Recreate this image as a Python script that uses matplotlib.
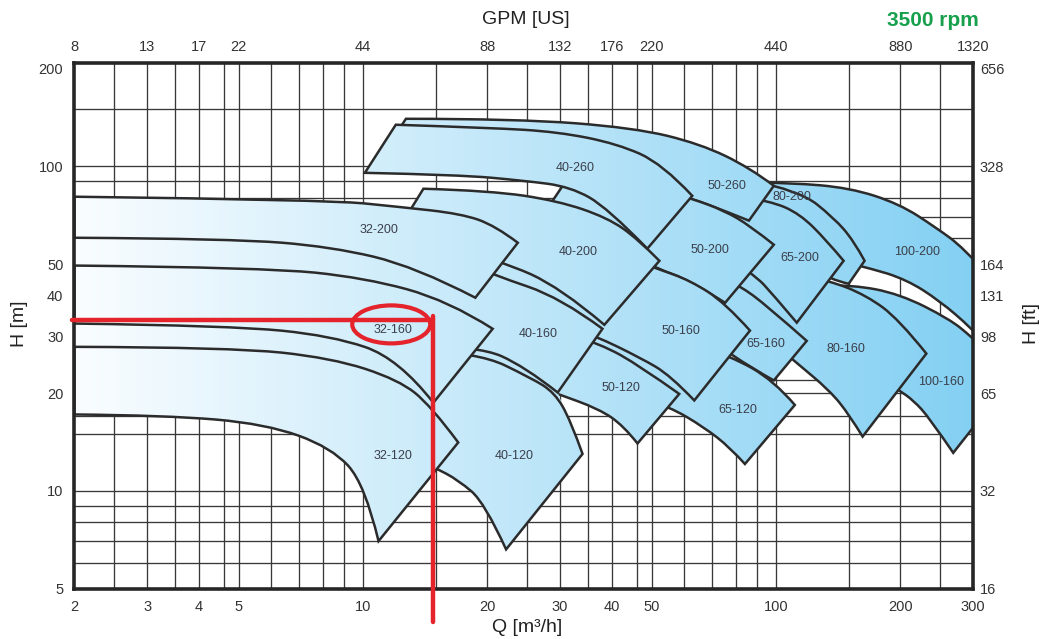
import numpy as np
import matplotlib.pyplot as plt
import matplotlib.transforms as mtransforms
from matplotlib.patches import PathPatch, Ellipse
from matplotlib.path import Path
from matplotlib.ticker import NullLocator

plt.rcParams['font.family'] = ['Liberation Sans', 'DejaVu Sans']

# flow ticks (m3/h) at the bottom, the same positions in US GPM on top
q_ticks = [2, 3, 4, 5, 10, 20, 30, 40, 50, 100, 200, 300]
gpm_labels = ["8", "13", "17", "22", "44", "88", "132", "176", "220", "440", "880", "1320"]
# head ticks (m) on the left, the same positions in ft on the right
h_ticks = [5, 10, 20, 30, 40, 50, 100, 200]
ft_labels = ["16", "32", "65", "98", "131", "164", "328", "656"]

q_grid = [2.5, 3, 3.5, 4, 4.6, 5, 6, 7, 8, 9, 10, 15, 20, 25, 30, 35, 40, 46, 50,
          60, 70, 80, 90, 100, 150, 200, 250]
h_grid = [6, 7, 8, 9, 10, 15, 17, 20, 22, 60, 70, 80, 90, 100, 150]

# pump ranges: (Q, H) along the largest impeller (top) and smallest impeller (bottom)
c100_200_top = [(92.5, 89.1), (108, 89.1), (150.8, 86.0), (199, 76.7), (244.6, 64.7), (284.2, 56.2), (322.9, 47.0)]
c100_200_bot = [(82.8, 61.2), (167.6, 48.8), (207, 44.8), (248.7, 38.6), (297, 31.8), (322.9, 28.4)]
c100_160_top = [(132.7, 42.9), (152.4, 43.2), (199, 40.5), (262.8, 33.9), (297, 29.9), (332, 26.1), (361, 21.1)]
c100_160_bot = [(175.2, 22.7), (199, 20.4), (215.2, 19.0), (235.2, 16.8), (268.7, 13.1)]
c80_200_top = [(87.5, 90.4), (114.2, 84.2), (138, 69.5), (154.2, 59.1), (163.9, 51.2)]
c80_200_bot = [(80.5, 63.4), (113, 52.0), (134.9, 44.8), (150, 43.5)]
c80_160_top = [(115.5, 46.1), (134.9, 44.5), (165.7, 40.0), (198, 33.9), (231.3, 26.5)]
c80_160_bot = [(100.5, 28.0), (110.5, 25.2), (134.9, 20.4), (150.8, 17.1), (162.1, 14.7)]
c65_200_top = [(80.5, 81.2), (96.7, 78.4), (114.2, 71.5), (132.7, 59.1), (145.8, 51.2)]
c65_200_bot = [(72, 55.0), (88.4, 46.7), (98.8, 40.0), (112.3, 33.0)]
c65_160_top = [(70, 47.7), (81.8, 42.9), (95.1, 37.2), (118.7, 29.0)]
c65_160_bot = [(64.9, 31.2), (77.4, 26.1), (98.8, 21.9)]
c65_120_top = [(64.9, 28.0), (77.4, 26.1), (98.8, 21.9), (111.1, 18.4)]
c65_120_bot = [(49.1, 19.0), (55.1, 18.2), (67, 15.7), (77.4, 13.6), (84.1, 12.1)]
c50_260_top = [(12.7, 140.3), (23.7, 140.3), (45.4, 131.6), (65.5, 117.5), (86.5, 99.1), (98.8, 87.2)]
c50_260_bot = [(11.5, 115.8), (29.6, 98.4), (49.1, 87.2), (62.7, 79.5), (74.9, 73.1), (86, 68.1)]
c50_200_top = [(32.2, 97.0), (41.3, 90.4), (51.6, 85.4), (62.7, 79.5), (74.9, 73.1), (86.5, 65.7), (98.8, 57.4)]
c50_200_bot = [(27.2, 70.5), (37.2, 59.1), (51.6, 48.4), (62, 44.5), (75.3, 38.0)]
c50_160_top = [(29.6, 59.1), (39.1, 55.0), (51.6, 48.4), (62, 44.5), (75.3, 38.0), (86.5, 31.2)]
c50_160_bot = [(31.3, 32.3), (36.4, 30.1), (47, 25.7), (55.5, 22.7), (63.4, 19.0)]
c50_120_top = [(32.2, 30.1), (37.6, 28.4), (47, 24.2), (58.3, 19.9)]
c50_120_bot = [(27.2, 20.7), (29.6, 19.9), (37.2, 17.9), (42.7, 15.9), (46.2, 14.0)]
c40_260_top = [(12.0, 134.5), (20.4, 131.6), (29.6, 127.9), (41.3, 117.5), (53.1, 101.9), (62.7, 81.2)]
c40_260_bot = [(10.1, 95.6), (17, 94.3), (24.6, 90.4), (31.8, 86.6), (39.1, 74.6), (48.8, 55.8)]
c40_200_top = [(14, 85.4), (20.4, 84.2), (29.6, 78.4), (39.1, 69.5), (46.2, 59.9), (52.2, 51.2)]
c40_200_bot = [(12.2, 64.3), (21.6, 51.2), (30.1, 42.3), (38.4, 32.5)]
c40_160_top = [(16.5, 52.0), (20.9, 46.1), (30.1, 39.4), (38, 31.6)]
c40_160_bot = [(13.2, 28.0), (19, 28.0), (24.6, 24.2), (29.6, 20.1)]
c40_120_top = [(13.6, 27.1), (19, 26.7), (25.5, 22.3), (29.1, 20.1), (31.8, 16.5), (34, 13.0)]
c40_120_bot = [(12.9, 12.8), (14.9, 11.8), (17, 10.8), (19.7, 9.2), (22.2, 6.6)]
c32_200_top = [(2, 80.7), (8.25, 78.9), (12.2, 75.1), (17.3, 71.5), (20.9, 65.7), (23.7, 58.2)]
c32_200_bot = [(2, 60.3), (4.81, 59.9), (8.39, 56.6), (13.4, 49.1), (18.7, 39.4)]
c32_160_top = [(2, 49.5), (5.81, 48.8), (10.1, 45.4), (16.1, 38.6), (20.6, 31.6)]
c32_160_bot = [(2, 32.8), (4.81, 32.3), (8.39, 30.1), (12.2, 25.6), (14.8, 18.7)]
c32_120_top = [(2, 27.8), (4.81, 27.7), (8.39, 25.7), (12.2, 22.0), (14.6, 18.3), (17, 14.1)]
c32_120_bot = [(2, 17.2), (3.33, 17.1), (5.81, 16.1), (8.39, 13.6), (10.1, 10.5), (10.9, 7.0)]

names = ["100-200", "100-160", "80-200", "80-160", "65-200", "65-160", "65-120",
         "50-260", "50-200", "50-160", "50-120", "40-260", "40-200", "40-160", "40-120",
         "32-200", "32-160", "32-120"]
label_q = [220, 251, 109.2, 147.5, 114.2, 94.6, 80.9, 76.1, 69.3, 59.0, 42.2,
           32.7, 33.1, 26.5, 23.2, 10.9, 11.8, 11.8]
label_h = [54.6, 21.7, 80.7, 27.4, 52.3, 28.4, 17.7, 87.2, 55.4, 31.0, 20.8,
           99.1, 54.6, 30.5, 12.8, 63.8, 31.4, 12.8]

# back to front; filled gaps between neighbouring ranges of one size
columns = [["100-200", "100-160"], ["80-200", "80-160"], ["65-200", "65-160", "65-120"],
           ["50-260", "50-200", "50-160", "50-120"], ["40-260", "40-200", "40-160", "40-120"],
           ["32-200", "32-160", "32-120"]]
gaps = [("65-200", "65-160"), ("50-160", "50-120"), ("40-200", "40-160"),
        ("40-160", "40-120"), ("32-200", "32-160"), ("32-160", "32-120")]

# duty point marked in red
sel_q, sel_h = 14.8, 33.7
line_q0, line_h0 = 1.97, 3.95
ring_q, ring_h = 11.7, 32.6

tops = {"100-200": c100_200_top, "100-160": c100_160_top, "80-200": c80_200_top, "80-160": c80_160_top,
        "65-200": c65_200_top, "65-160": c65_160_top, "65-120": c65_120_top,
        "50-260": c50_260_top, "50-200": c50_200_top, "50-160": c50_160_top, "50-120": c50_120_top,
        "40-260": c40_260_top, "40-200": c40_200_top, "40-160": c40_160_top, "40-120": c40_120_top,
        "32-200": c32_200_top, "32-160": c32_160_top, "32-120": c32_120_top}
bots = {"100-200": c100_200_bot, "100-160": c100_160_bot, "80-200": c80_200_bot, "80-160": c80_160_bot,
        "65-200": c65_200_bot, "65-160": c65_160_bot, "65-120": c65_120_bot,
        "50-260": c50_260_bot, "50-200": c50_200_bot, "50-160": c50_160_bot, "50-120": c50_120_bot,
        "40-260": c40_260_bot, "40-200": c40_200_bot, "40-160": c40_160_bot, "40-120": c40_120_bot,
        "32-200": c32_200_bot, "32-160": c32_160_bot, "32-120": c32_120_bot}


def curve(points):
    # quadratic bezier pieces through the read points (drawn smooth on the log axes)
    lp = np.log10(np.array(points, dtype=float))
    verts, codes = [lp[0]], []
    if len(lp) == 2:
        return 10 ** np.array(verts + [lp[1]]), [Path.LINETO]
    for i in range(1, len(lp) - 1):
        end = (lp[i] + lp[i + 1]) / 2 if i < len(lp) - 2 else lp[i + 1]
        verts += [lp[i], end]
        codes += [Path.CURVE3, Path.CURVE3]
    return 10 ** np.array(verts), codes


def band(upper, lower):
    tv, tc = curve(upper)
    bv, bc = curve(lower[::-1])
    verts = np.vstack([tv, bv, tv[:1]])
    codes = [Path.MOVETO] + tc + [Path.LINETO] + bc + [Path.CLOSEPOLY]
    return Path(verts, codes)


fig = plt.figure(figsize=(10.46, 6.39), dpi=100)
ax = fig.add_axes([0.0712, 0.0790, 0.8590, 0.8219])
ax.set_xscale("log")
ax.set_yscale("log")
ax.set_xlim(2, 300)
ax.set_ylim(5, 208)

ax.vlines(q_grid, 5, 208, colors="#383838", lw=0.95, zorder=1)
ax.hlines(h_grid, 2, 300, colors="#383838", lw=0.95, zorder=1)

ramp = np.linspace(0, 1, 256)[:, None]
light = np.array([250, 253, 255]) / 255
deep = np.array([132, 208, 243]) / 255
shade = (light * (1 - ramp) + deep * ramp)[None, :, :]


def shaded(path, z, edge=False):
    region = PathPatch(path, fc="none", ec="#2b2b2b" if edge else "none", lw=1.8,
                       joinstyle="miter", zorder=z + 0.1, transform=ax.transData)
    if edge:
        ax.add_patch(region)
    im = ax.imshow(shade, extent=(0, 1, 0, 1), transform=ax.transAxes, aspect="auto",
                   interpolation="bilinear", zorder=z)
    im.set_clip_path(region)


z = 2
for column in columns:
    for upper, lower in gaps:
        if upper in column:
            shaded(band(bots[upper], tops[lower]), z)
            z += 1
    for name in column:
        shaded(band(tops[name], bots[name]), z, edge=True)
        i = names.index(name)
        ax.text(label_q[i], label_h[i], name, ha="center", va="center", fontsize=9,
                color="#3a3f4a", zorder=z + 0.2)
        z += 1

ax.set_xlim(2, 300)
ax.set_ylim(5, 208)

ax.set_xticks(q_ticks, labels=[str(v) for v in q_ticks])
ax.set_yticks(h_ticks, labels=[str(v) for v in h_ticks])
ax.xaxis.set_minor_locator(NullLocator())
ax.yaxis.set_minor_locator(NullLocator())
ax.tick_params(length=0, labelsize=10.5, labelcolor="#333333", pad=8)

top = ax.secondary_xaxis("top")
top.set_xticks(q_ticks, labels=gpm_labels)
top.xaxis.set_minor_locator(NullLocator())
top.tick_params(length=0, labelsize=10.5, labelcolor="#333333", pad=7)
right = ax.secondary_yaxis("right")
right.set_yticks(h_ticks, labels=ft_labels)
right.yaxis.set_minor_locator(NullLocator())
right.tick_params(length=0, labelsize=10.5, labelcolor="#333333", pad=5)
for sec in (top, right):
    for s in sec.spines.values():
        s.set_visible(False)

for s in ax.spines.values():
    s.set_linewidth(2.6)
    s.set_color("#262626")
    s.set_zorder(80)

red = "#e5232b"
ax.plot([line_q0, sel_q], [sel_h, sel_h], color=red, lw=3.2, solid_capstyle="round",
        clip_on=False, zorder=90)
ax.plot([sel_q, sel_q], [sel_h * 1.03, line_h0], color=red, lw=3.2, solid_capstyle="round",
        clip_on=False, zorder=90)
ring = Ellipse((0, 0), 0.78, 0.38, fill=False, ec=red, lw=3, zorder=90, clip_on=False,
               transform=fig.dpi_scale_trans + mtransforms.ScaledTranslation(ring_q, ring_h, ax.transData))
ax.add_patch(ring)

fig.text(526 / 1046, 1 - 20 / 639, "GPM [US]", ha="center", va="center", fontsize=14, color="#222222")
fig.text(933 / 1046, 1 - 20 / 639, "3500 rpm", ha="center", va="center", fontsize=15,
         fontweight="bold", color="#16a04c")
fig.text(527 / 1046, 1 - 628 / 639, "Q [m³/h]", ha="center", va="center", fontsize=14, color="#222222")
fig.text(20 / 1046, 1 - 324 / 639, "H [m]", ha="center", va="center", rotation=90, fontsize=14,
         color="#222222")
fig.text(1032 / 1046, 1 - 324 / 639, "H [ft]", ha="center", va="center", rotation=90, fontsize=14,
         color="#222222")

fig.savefig("out.png", dpi=100)
